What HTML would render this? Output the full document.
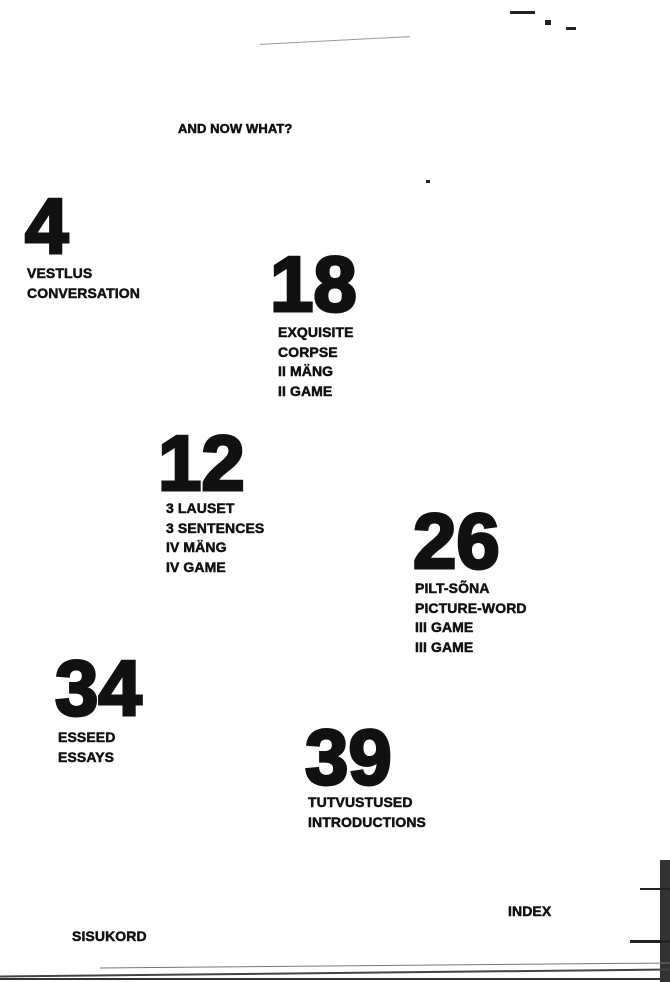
<!DOCTYPE html>
<html><head><meta charset="utf-8"><style>
html,body{margin:0;padding:0}
body{width:670px;height:982px;background:#fff;position:relative;overflow:hidden;font-family:"Liberation Sans",Arial,sans-serif;font-weight:bold;color:#111}
.t{position:absolute;font-size:14px;line-height:19.5px;white-space:nowrap;letter-spacing:0.1px;-webkit-text-stroke:0.5px #111}
.n{position:absolute;font-size:78px;line-height:80px;font-weight:900;letter-spacing:0px;-webkit-text-stroke:3px #111}
.l{position:absolute;background:#222}
</style></head><body>
<div class="t" style="left:178px;top:119px;font-size:13px">AND NOW WHAT?</div>

<div class="n" style="left:25px;top:186px">4</div>
<div class="t" style="left:27px;top:264px">VESTLUS<br>CONVERSATION</div>

<div class="n" style="left:270px;top:244px">18</div>
<div class="t" style="left:278px;top:323px">EXQUISITE<br>CORPSE<br>II MÄNG<br>II GAME</div>

<div class="n" style="left:158px;top:423px">12</div>
<div class="t" style="left:166px;top:499px">3 LAUSET<br>3 SENTENCES<br>IV MÄNG<br>IV GAME</div>

<div class="n" style="left:413px;top:501px">26</div>
<div class="t" style="left:415px;top:579px">PILT-SÕNA<br>PICTURE-WORD<br>III GAME<br>III GAME</div>

<div class="n" style="left:55px;top:648px">34</div>
<div class="t" style="left:58px;top:728px">ESSEED<br>ESSAYS</div>

<div class="n" style="left:305px;top:717px">39</div>
<div class="t" style="left:308px;top:793px">TUTVUSTUSED<br>INTRODUCTIONS</div>

<div class="t" style="left:508px;top:902px">INDEX</div>
<div class="t" style="left:72px;top:927px">SISUKORD</div>

<div class="l" style="left:260px;top:40px;width:150px;height:1px;background:#999;transform:rotate(-3deg)"></div>
<div class="l" style="left:510px;top:11px;width:25px;height:3px"></div>
<div class="l" style="left:545px;top:20px;width:6px;height:5px"></div>
<div class="l" style="left:566px;top:27px;width:10px;height:3px"></div>
<div class="l" style="left:426px;top:180px;width:4px;height:3px"></div>
<div class="l" style="left:660px;top:860px;width:10px;height:122px;background:#333"></div>
<div class="l" style="left:640px;top:888px;width:30px;height:2px"></div>
<div class="l" style="left:630px;top:940px;width:40px;height:3px"></div>
<div class="l" style="left:0px;top:972px;width:670px;height:2px;background:#444;transform:rotate(-0.6deg)"></div>
<div class="l" style="left:100px;top:965px;width:570px;height:1px;background:#777;transform:rotate(-0.5deg)"></div>
<div class="l" style="left:0px;top:978px;width:670px;height:2px;background:#333"></div>
</body></html>
